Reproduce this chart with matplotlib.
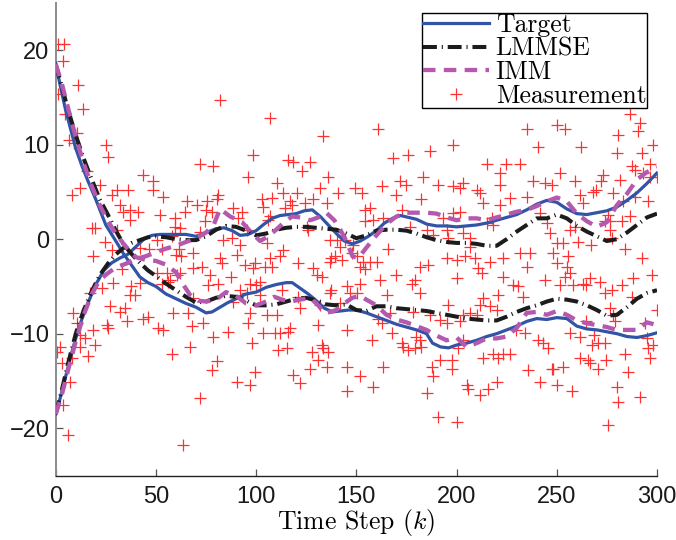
import matplotlib
matplotlib.use("Agg")
import matplotlib.pyplot as plt

# ---------------- data ----------------
# Target trajectories
tgt1_k = [0, 2, 5, 8, 10, 13, 16, 20, 25, 30, 34, 38, 42, 46, 50, 55, 60, 65, 70, 75, 78, 82, 86, 90, 95,
          100, 105, 110, 115, 118, 122, 126, 130, 134, 138, 142, 146, 150, 155, 160, 165, 170, 175, 180,
          185, 188, 192, 196, 200, 205, 210, 215, 220, 225, 230, 235, 240, 245, 250, 255, 260, 265, 270,
          275, 280, 285, 290, 295, 300]
tgt1_y = [18.6, 16.5, 13.6, 11.2, 9.6, 7.8, 6.2, 4.2, 1.5, -0.2, -1.6, -2.8, -4.0, -4.6, -5.0, -5.8, -6.3,
          -6.8, -7.2, -7.8, -7.7, -7.2, -6.7, -6.3, -5.8, -5.6, -5.1, -4.8, -4.6, -4.6, -5.2, -5.8, -6.5,
          -7.3, -7.7, -7.6, -7.5, -7.5, -7.8, -8.2, -8.6, -9.0, -9.3, -9.6, -10.0, -11.0, -11.4, -11.5,
          -11.2, -11.0, -10.7, -10.3, -10.0, -9.6, -9.2, -8.7, -8.4, -8.5, -8.3, -8.4, -9.2, -9.5, -9.6,
          -9.8, -10.0, -10.3, -10.4, -10.2, -9.9]
tgt2_k = [0, 2, 5, 8, 10, 13, 16, 20, 24, 28, 32, 36, 40, 44, 48, 52, 56, 60, 65, 70, 75, 80, 84, 88, 92,
          96, 100, 104, 108, 112, 116, 120, 124, 128, 132, 136, 140, 144, 148, 152, 156, 160, 164, 168,
          172, 176, 180, 185, 190, 195, 200, 205, 210, 215, 220, 225, 230, 235, 240, 245, 250, 255, 260,
          265, 270, 275, 280, 285, 290, 295, 300]
tgt2_y = [-18.5, -17.0, -14.5, -12.0, -10.5, -8.5, -6.8, -4.8, -3.3, -2.5, -2.0, -1.6, -0.8, 0.0, 0.4, 0.5,
          0.5, 0.5, 0.5, 0.3, 0.7, 1.1, 1.2, 0.9, 0.4, 0.5, 0.9, 1.6, 2.2, 2.5, 2.6, 2.7, 3.0, 3.1, 2.4,
          1.5, 0.6, -0.2, -0.5, -0.2, 0.3, 0.9, 1.7, 2.2, 2.5, 2.3, 2.1, 1.6, 1.4, 1.4, 1.3, 1.4, 1.5, 1.7,
          2.0, 2.3, 2.6, 3.1, 3.7, 4.1, 3.9, 3.2, 2.7, 2.6, 2.8, 3.0, 3.4, 4.1, 4.9, 5.9, 7.0]

# LMMSE estimates
est_k = [0, 3, 6, 10, 14, 18, 22, 26, 30, 34, 38, 42, 46, 50, 55, 60, 65, 70, 75, 80, 85, 90, 95, 100,
         105, 110, 115, 120, 125, 130, 135, 140, 145, 150, 155, 160, 165, 170, 175, 180, 185, 190, 195,
         200, 205, 210, 215, 220, 225, 230, 235, 240, 245, 250, 255, 260, 265, 270, 275, 280, 285, 290,
         295, 300]
lmmse1_y = [18.5, 16.2, 13.8, 11.0, 8.5, 6.3, 4.2, 2.6, 0.9, -0.6, -1.6, -2.5, -3.3, -3.9, -4.7, -5.4,
            -6.1, -6.7, -6.6, -6.2, -6.0, -6.1, -6.5, -7.0, -7.0, -6.9, -6.6, -6.3, -6.2, -6.5, -6.9,
            -7.0, -6.9, -7.5, -7.6, -7.1, -7.1, -7.3, -7.4, -7.5, -7.6, -7.8, -8.0, -8.2, -8.4, -8.5,
            -8.6, -8.6, -8.2, -7.7, -7.3, -7.0, -6.6, -6.3, -6.4, -6.6, -7.0, -7.5, -8.1, -8.0, -7.2,
            -6.3, -5.7, -5.4]
lmmse2_y = [-18.5, -16.0, -13.3, -10.0, -7.5, -5.5, -3.8, -2.6, -1.6, -0.9, -0.4, -0.1, 0.2, 0.3, 0.2,
            0.0, -0.1, -0.1, 0.3, 1.0, 1.4, 1.3, 0.9, 0.4, 0.6, 1.0, 1.2, 1.3, 1.3, 1.2, 1.1, 1.0, 0.6,
            0.1, 0.4, 0.9, 1.0, 1.0, 0.9, 0.6, 0.2, -0.1, -0.3, -0.4, -0.4, -0.5, -0.7, -0.7, 0.0, 0.8,
            1.5, 2.2, 2.2, 2.6, 2.2, 1.4, 0.8, 0.3, -0.2, 0.0, 0.7, 1.5, 2.3, 2.7]

# IMM estimates
imm1_k = [0, 3, 6, 10, 14, 18, 22, 26, 30, 35, 40, 45, 50, 55, 60, 63, 67, 71, 75, 80, 85, 90, 95, 100,
          105, 109, 113, 117, 122, 127, 131, 134, 137, 140, 144, 148, 152, 155, 160, 165, 170, 175, 180,
          185, 190, 195, 200, 205, 210, 215, 220, 225, 230, 235, 240, 245, 250, 255, 260, 265, 270, 275,
          280, 285, 290, 295, 300]
imm1_y = [18.5, 16.5, 14.0, 10.8, 8.0, 5.6, 3.6, 1.9, 0.6, -0.8, -1.9, -2.2, -2.3, -2.7, -3.5, -4.6,
          -5.9, -6.5, -6.6, -6.4, -5.6, -6.0, -6.8, -7.0, -6.6, -6.1, -6.4, -6.6, -6.4, -6.2, -7.0, -7.8,
          -7.7, -7.5, -6.8, -6.2, -6.0, -6.4, -7.0, -8.0, -8.5, -8.8, -9.2, -9.6, -10.2, -10.7, -10.4,
          -11.4, -11.0, -10.5, -10.5, -10.3, -9.4, -7.8, -7.7, -8.0, -7.6, -8.0, -8.6, -8.9, -9.1, -9.3,
          -9.6, -9.6, -9.6, -8.8, -9.1]
imm2_k = [0, 3, 6, 10, 14, 18, 22, 26, 30, 35, 40, 45, 50, 55, 60, 65, 70, 75, 79, 82, 87, 93, 98, 102,
          106, 110, 114, 118, 122, 127, 131, 135, 139, 142, 145, 148, 151, 155, 160, 165, 170, 175, 180,
          185, 190, 195, 200, 205, 210, 215, 220, 225, 230, 235, 240, 245, 250, 255, 260, 265, 270, 275,
          280, 285, 290, 295, 300]
imm2_y = [-18.5, -16.5, -14.0, -10.8, -8.0, -5.8, -4.3, -3.6, -3.0, -2.6, -2.1, -1.8, -1.4, -1.0, -0.7,
          -0.3, 0.1, 0.7, 1.6, 3.2, 2.4, 1.8, 0.6, -0.2, 0.3, 1.0, 1.8, 2.4, 2.3, 2.0, 2.3, 2.8, 2.0,
          1.0, -0.2, -1.8, -2.0, -0.9, 0.4, 1.6, 2.4, 2.8, 2.8, 2.8, 2.7, 2.3, 2.0, 2.2, 2.2, 2.0, 2.3,
          2.6, 2.9, 3.1, 3.5, 4.0, 4.4, 4.0, 2.7, 1.9, 1.3, 1.8, 3.6, 4.8, 6.3, 7.1, 7.6]

# Measurements (time step, value)
meas_k = [1.3, 4.1, 3.5, 11.3, 1.3, 13.8, 4.6, 10.5, 6.4, 8.9, 25, 26.3, 15.5, 43.7, 22, 12, 30.4, 36.2,
          8, 27.9, 32, 33.5, 37, 41.2, 37, 18, 19.6, 30.4, 24.6, 18.8, 28, 42, 46.5, 33, 28.7, 37.6, 42,
          23, 17, 36.9, 39.4, 27, 32, 34.5, 43.5, 46, 8.8, 35.4, 25.4, 26.3, 18.8, 10.5, 12, 14.6, 19.6,
          12, 2.1, 0.5, 3, 16.3, 8, 7.1, 3.8, 6.3, 51,
          82, 98.6, 72, 78.6, 96, 48.7, 48.7, 53.7, 81, 65.3, 70.3, 75.3, 80.3, 74.8, 78.1, 64.3, 88.6,
          92.8, 52, 59.5, 91, 74.5, 59.5, 62, 72, 95.3, 57.9, 83.6, 87.8, 50.4, 92, 53, 61.6, 60, 62.3,
          68.6, 90.3, 82, 82.8, 94.4, 72.8, 68.6, 77, 87.4, 98.6, 99.4, 50.4, 55.4, 57, 52.9, 56.2,
          60.5, 62, 76.1, 81.1, 92, 95.3, 97, 100, 68.6, 88.6, 58.7, 66.1, 97, 53.7, 67.8, 73.6, 78.6,
          86.1, 96, 97.7, 67, 57.9, 80.3, 77.8, 90.3, 96.9, 99.4, 72, 63.6,
          106.9, 133.5, 116, 118.5, 126.8, 122.7, 136, 110.2, 131.8, 149.3, 113.5, 120.2, 141, 102.7,
          107.7, 128.5, 124.3, 135.2, 103.5, 116.9, 117.7, 114.3, 106.9, 106, 125.2, 126, 136.8, 140.1,
          141.8, 144.3, 105.2, 113.5, 111.9, 106.9, 137.6, 139.3, 104.4, 107.7, 121, 136.8, 142.6,
          128.5, 130.2, 132.7, 101.9, 112.7, 101.9, 136.8, 137.6, 145.1, 146.8, 150.1, 121, 121.8,
          131.8, 105.2, 110.2, 141.8, 103.5, 109.4, 111.9, 116.9, 116, 131, 111, 115.2, 127.7, 132.7,
          133.5, 136, 145.1, 131, 135.2, 126.8, 145.1, 118.5, 121.8, 145.1, 151.8,
          160.9, 198.3, 168.4, 175.9, 186.7, 183.3, 171.7, 175, 162.6, 190.8, 198.3, 152.6, 170, 182.5,
          154.3, 156.8, 172.6, 158.4, 163.4, 154.3, 193.3, 176.7, 185, 188.3, 195, 195.8, 165.9, 148.4,
          147.6, 150.1, 153.4, 156.8, 160.1, 151.8, 154.3, 181.7, 185.8, 195, 200, 170, 161.7, 179.2,
          177.6, 181.7, 200, 151.8, 165.1, 195.8, 166.7, 178.4, 186.7, 191.7, 160.9, 162.6, 167.6,
          173.4, 172.6, 175.9, 179.2, 182.5, 180, 181.7, 157.6, 163.4, 158.4, 187.5, 188.3, 191.7,
          197.5, 197.5, 185, 190.8, 200, 195,
          234.9, 249.9, 240.7, 215, 231.6, 224.9, 221.6, 203.3, 201.7, 210, 211.6, 221.6, 238.2, 244,
          247.4, 226.6, 234.9, 213.3, 221.6, 201.7, 198.3, 217.5, 215, 218.3, 241.5, 244.9, 246.5,
          203.3, 206.6, 206.6, 231.6, 236.6, 204.1, 209.1, 216.6, 223.2, 248.2, 249.9, 234.9, 210.8,
          212.5, 223.2, 244, 228.2, 230.7, 213.3, 220.8, 233.2, 211.6, 216.6, 220, 203.3, 206.6, 210,
          201.7, 229.9, 234, 240.7, 243.2, 245.7, 203.3, 200.8, 213.3, 218.3, 220.8, 223.2, 226.6,
          235.7, 247.4, 241.5, 205, 205.8, 211.6, 215.8, 220, 249.9,
          286.4, 291.7, 290.6, 254, 280.6, 298, 262.3, 279.8, 292.3, 296.4, 287.3, 288.9, 293, 296.4,
          299.8, 251.5, 259, 273.1, 272.3, 281.5, 268.1, 269.8, 261.5, 278.1, 288.9, 263.1, 283.1,
          295.6, 275.6, 286.6, 282.3, 274, 276.6, 256.6, 259.1, 276.6, 277.3, 284, 249.9, 253.2, 260.7,
          267.3, 292.3, 255.7, 254.9, 256.6, 254.1, 266.5, 271.5, 288.1, 297.3, 258.2, 263.1, 264.8,
          282.3, 277.3, 274, 251.5, 287.3, 299.8, 276.6, 264.8, 278.1, 279, 293.9, 256.6, 261.5, 268.4,
          270.6, 267.6, 274.2, 294.8, 298.1, 295.6, 283.9, 296.4, 261.5, 265.7, 266.6, 274.8, 248.2,
          253.2, 270.6, 285.6, 257.4, 279.8, 280.6, 291.4, 275.6]
meas_y = [20.6, 20.6, 18.8, 16.3, 15.4, 13.8, 13.2, 11.2, 10.5, 10.2, 10.0, 8.7, 7.2, 6.8, 5.7, 5.4, 5.2,
          5.2, 4.7, 4.7, 3.6, 2.9, 3.1, 2.9, 2.0, 1.2, 1.2, 1.0, -0.25, -1.8, -1.1, -0.9, -1.0, -3.2,
          -4.6, -5.0, -4.6, -5.2, -5.7, -5.9, -5.9, -7.1, -7.7, -7.3, -8.4, -8.2, -7.8, -8.7, -9.1, -9.4,
          -9.6, -8.9, -10.1, -10.5, -11.2, -11.4, -11.4, -11.9, -13.1, -12.4, -12.6, -15.1, -17.5,
          -20.7, -9.4,
          14.7, 8.9, 7.9, 7.7, 6.6, 6.1, 5.2, 4.5, 4.7, 4.0, 3.6, 4.0, 4.2, 3.1, 2.9, 2.9, 3.3, 2.9, 2.6,
          2.2, 2.2, 1.9, 1.3, 1.2, 0.8, 1.0, 0.3, -0.1, 0.1, -0.1, -0.6, -1.0, -1.0, -1.7, -1.8, -1.5,
          -1.7, -2.0, -2.5, -2.7, -2.9, -3.1, -3.8, -4.0, -3.1, -2.5, -3.6, -3.6, -4.3, -4.7, -4.5, -3.8,
          -3.6, -4.8, -4.7, -5.4, -5.7, -4.7, -4.8, -6.2, -6.6, -7.8, -7.8, -7.8, -9.6, -9.2, -8.9,
          -10.3, -9.8, -8.9, -11.0, -11.4, -12.1, -12.9, -13.8, -15.1, -15.4, -14.0, -16.8, -21.8,
          12.8, 10.9, 8.4, 8.2, 8.2, 7.2, 6.6, 5.9, 5.4, 5.4, 4.9, 4.9, 4.9, 4.2, 4.3, 4.2, 3.8, 3.8, 3.4,
          4.0, 3.6, 3.3, 2.4, 2.0, 1.3, 1.0, -0.1, -0.1, -0.8, -0.1, -0.4, -1.1, -1.8, -2.0, -2.0, -1.8,
          -2.9, -2.9, -2.5, -2.4, -2.2, -3.1, -3.8, -4.0, -4.5, -5.4, -5.9, -5.7, -5.4, -5.0, -5.7,
          -5.7, -6.1, -7.3, -7.0, -8.0, -8.0, -6.8, -9.9, -9.9, -9.9, -9.4, -9.8, -9.1, -11.7, -11.5,
          -11.9, -11.2, -11.5, -11.9, -9.6, -12.8, -13.5, -13.7, -13.5, -14.4, -15.2, -16.1, -14.5,
          11.7, 10.0, 8.6, 8.9, 9.3, 6.6, 6.1, 5.7, 5.6, 5.7, 5.6, 4.9, 4.7, 4.2, 3.1, 3.3, 3.1, 2.0,
          2.2, 1.9, 2.2, 1.3, 1.0, 0.45, 1.0, 0.1, -1.0, -0.6, -1.5, -1.8, -2.4, -2.4, -2.4, -2.9, -3.2,
          -2.9, -2.7, -2.0, -2.2, -3.8, -4.3, -4.3, -4.7, -5.7, -4.1, -4.7, -5.9, -7.0, -7.8, -7.7,
          -8.0, -8.5, -8.4, -8.9, -9.9, -11.4, -11.0, -11.7, -11.5, -11.4, -10.3, -10.7, -10.7, -13.5,
          -15.6, -13.5, -14.5, -12.8, -12.8, -13.7, -16.3, -18.8, -19.3, -8.9,
          11.7, 12.1, 9.8, 8.0, 8.0, 7.9, 7.0, 5.9, 5.4, 5.2, 4.9, 5.7, 6.1, 5.9, 5.7, 4.3, 4.5, 3.8,
          3.6, 2.9, 2.8, 2.2, 1.7, 1.5, 2.8, 1.7, 0.6, 0.6, 0.1, -0.8, -1.5, -1.5, -1.8, -2.0, -2.4,
          -2.0, -1.5, -2.5, -2.9, -3.1, -3.6, -4.0, -4.3, -4.8, -5.0, -6.2, -5.9, -6.1, -7.0, -7.1,
          -7.5, -8.0, -7.8, -8.0, -8.7, -9.6, -9.9, -10.7, -11.0, -11.5, -10.7, -11.5, -12.6, -12.1,
          -12.6, -12.2, -12.2, -13.8, -13.7, -15.1, -15.4, -15.8, -16.5, -15.8, -15.1, -15.4,
          13.2, 12.3, 11.4, 11.6, 11.0, 10.0, 9.8, 9.1, 9.1, 8.0, 7.7, 7.3, 7.0, 6.6, 6.6, 7.0, 6.1, 6.8,
          6.1, 6.3, 5.0, 5.2, 4.7, 4.9, 4.5, 3.8, 4.0, 4.0, 2.6, 2.4, 1.9, 1.9, 1.9, 1.0, 1.3, 1.0, 0.1,
          -1.0, -0.4, -0.4, -0.25, -0.6, -2.0, -1.8, -2.9, -3.6, -4.0, -4.1, -4.5, -4.1, -3.8, -4.8,
          -4.7, -4.8, -4.8, -5.4, -5.7, -4.8, -6.1, -7.5, -7.3, -8.7, -8.0, -8.7, -8.9, -9.9, -10.3,
          -10.1, -11.0, -11.2, -11.0, -10.5, -11.2, -11.5, -12.2, -12.6, -12.6, -12.8, -13.1, -12.8,
          -13.7, -13.5, -13.7, -14.0, -16.1, -15.6, -17.2, -16.7, -19.7]

xticks = [0, 50, 100, 150, 200, 250, 300]
yticks = [-20, -10, 0, 10, 20]
legend_labels = ["Target", "LMMSE", "IMM", "Measurement"]

# ---------------- style ----------------
plt.rcParams["mathtext.fontset"] = "cm"
plt.rcParams["lines.scale_dashes"] = False

c_target = "#3154a6"
c_lmmse = "#1c1c1c"
c_imm = "#b459ad"
c_meas = "#ff3030"

fig = plt.figure(figsize=(6.76, 5.4), dpi=100)
W, H = 676.0, 540.0
x0, x1, ytop, ybot = 55.7, 657.0, 2.8, 475.5
ax = fig.add_axes([x0 / W, 1 - ybot / H, (x1 - x0) / W, (ybot - ytop) / H])

hm, = ax.plot(meas_k, meas_y, linestyle="none", marker="+", markersize=8.5,
              markeredgewidth=0.9, color=c_meas, zorder=2)
ht, = ax.plot(tgt1_k, tgt1_y, color=c_target, lw=2.3, zorder=3, solid_joinstyle="round")
ax.plot(tgt2_k, tgt2_y, color=c_target, lw=2.3, zorder=3, solid_joinstyle="round")
hl, = ax.plot(est_k, lmmse1_y, color=c_lmmse, lw=2.9, dashes=(10, 3.5, 0.8, 3.5), zorder=4)
ax.plot(est_k, lmmse2_y, color=c_lmmse, lw=2.9, dashes=(10, 3.5, 0.8, 3.5), zorder=4)
hi, = ax.plot(imm1_k, imm1_y, color=c_imm, lw=3.1, dashes=(9, 6), zorder=5)
ax.plot(imm2_k, imm2_y, color=c_imm, lw=3.1, dashes=(9, 6), zorder=5)

ax.set_xlim(0, 300)
ax.set_ylim(-25, 25)
ax.set_xticks(xticks)
ax.set_yticks(yticks)
ax.spines["top"].set_visible(False)
ax.spines["right"].set_visible(False)
ax.spines["left"].set_linewidth(1.4)
ax.spines["left"].set_color("#8c8c8c")
ax.spines["bottom"].set_linewidth(1.0)
ax.spines["bottom"].set_color("#222222")
ax.tick_params(direction="in", length=5, width=0.9, colors="#555555",
               labelcolor="#1a1a1a", labelsize=17)
ax.tick_params(axis="x", pad=7.5)
ax.tick_params(axis="y", pad=4.5)
for lab in ax.get_xticklabels() + ax.get_yticklabels():
    lab.set_fontfamily("Liberation Sans")

ax.set_xlabel(r"Time Step ($k$)", fontfamily="cmr10", fontsize=18.5, labelpad=-1)

leg = ax.legend([ht, hl, hi, hm], legend_labels, loc="upper right",
                bbox_to_anchor=(647 / W, 1 - 13 / H), bbox_transform=fig.transFigure,
                borderaxespad=0, prop={"family": "cmr10", "size": 18.5}, numpoints=1,
                handlelength=2.6, handletextpad=0.25, labelspacing=-0.01,
                borderpad=0.02, frameon=True, fancybox=False, framealpha=1,
                edgecolor="black")
leg.get_frame().set_linewidth(1.0)

fig.savefig("out.png", dpi=100)
